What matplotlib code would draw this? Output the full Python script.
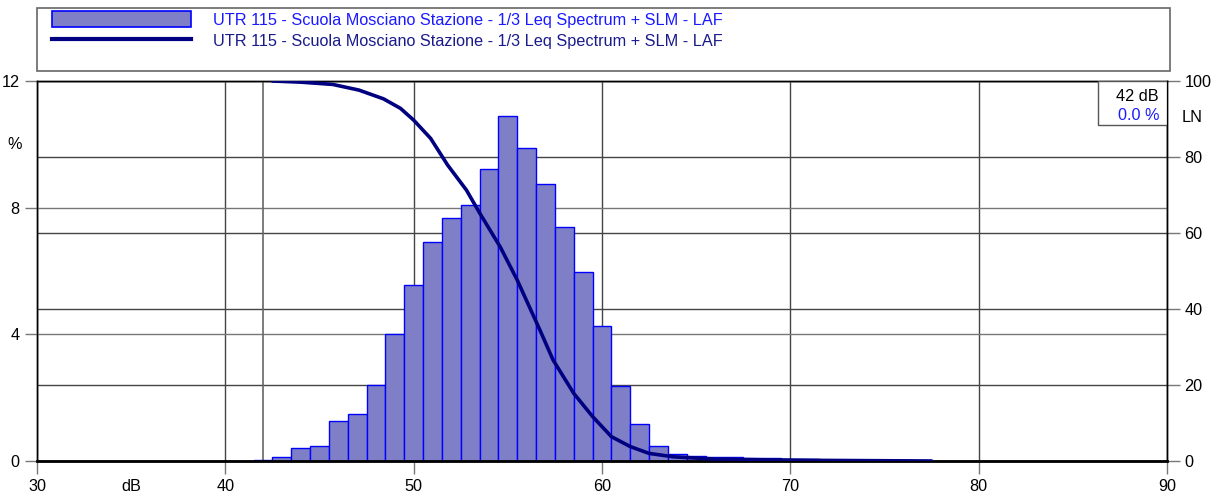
import matplotlib; matplotlib.use("Agg")
import matplotlib.pyplot as plt
from matplotlib.patches import Rectangle, Patch
from matplotlib.lines import Line2D
from matplotlib.transforms import blended_transform_factory

plt.rcParams["font.family"] = ["Liberation Sans", "DejaVu Sans"]

# level distribution (1 dB classes, % of time)
levels = [42, 43, 44, 45, 46, 47, 48, 49, 50, 51, 52, 53, 54, 55, 56, 57, 58, 59,
          60, 61, 62, 63, 64, 65, 66, 67, 68, 69, 70, 71, 72, 73, 74, 75, 76, 77]
percent = [0.03, 0.14, 0.40, 0.48, 1.27, 1.50, 2.40, 4.02, 5.56, 6.91, 7.68, 8.09,
           9.23, 10.90, 9.87, 8.74, 7.40, 5.96, 4.26, 2.37, 1.16, 0.48, 0.22, 0.17,
           0.12, 0.13, 0.10, 0.08, 0.06, 0.05, 0.04, 0.04, 0.03, 0.02, 0.02, 0.01]
# cumulative LN curve (% of time above level)
ln_db = [42.5, 44, 45.7, 47.1, 48.4, 49.3, 50.0, 50.9, 51.8, 52.8, 53.5, 54.6, 55.5,
         56.7, 57.4, 58.5, 59.5, 60.5, 61.5, 62.5, 63.8, 66, 68.8, 72, 77.5]
ln_pct = [100, 99.7, 99.1, 97.6, 95.3, 92.8, 89.7, 84.9, 77.9, 71.3, 65.3, 56.3, 47.6,
          34.5, 26.6, 17.8, 11.7, 6.4, 3.8, 2.0, 1.1, 0.5, 0.3, 0.15, 0]
cursor_db = 42
cursor_txt = ["42 dB", "0.0 %"]
series_name = "UTR 115 - Scuola Mosciano Stazione - 1/3 Leq Spectrum + SLM - LAF"

BAR_FACE, BAR_EDGE, LINE_C = "#7f7fc8", "#0000ff", "#000080"
GRID = "#444444"
FS = 11.7

fig = plt.figure(figsize=(12.16, 4.95), dpi=100)
ax = fig.add_axes([37/1216, 1 - 461/495, 1130/1216, 380/495])
ax2 = ax.twinx()
ax.set_zorder(2); ax.patch.set_visible(False)

ax.set_xlim(30, 90); ax.set_ylim(0, 12)
ax2.set_ylim(0, 100)
ax.set_xticks(range(30, 91, 10)); ax.set_yticks([0, 4, 8, 12])
ax2.set_yticks(range(0, 101, 20))

# grids: right-axis lines on ax2 (behind), left-axis + vertical lines on ax
ax2.grid(axis="y", color=GRID, lw=1)
ax.grid(axis="y", color="#777777", lw=1)
ax.grid(axis="x", color=GRID, lw=1)
ax.set_axisbelow(True)

ax.bar(levels, percent, width=1.0, color=BAR_FACE, edgecolor=BAR_EDGE, lw=1, zorder=2)
ax.axvline(cursor_db, color="#666666", lw=1.2, zorder=1.5)
ax.plot(ln_db, ln_pct, color=LINE_C, lw=2.6, transform=ax2.transData, zorder=3,
        solid_capstyle="round", solid_joinstyle="round")

for a in (ax, ax2):
    for s in a.spines.values():
        s.set_color("black"); s.set_linewidth(1)
ax.spines["bottom"].set_linewidth(2)
ax.tick_params(axis="both", direction="out", length=9, width=1, color="#777777",
               labelsize=FS, labelcolor="black")
ax.tick_params(axis="x", pad=4)
ax2.tick_params(axis="y", direction="out", length=9, width=1, color="#777777",
                labelsize=FS, labelcolor="black")

# axis captions
ax.text(-0.02, 10, "%", transform=blended_transform_factory(ax.transAxes, ax.transData),
        ha="center", va="center", fontsize=FS)
ax.text(35, -0.067, "dB", transform=blended_transform_factory(ax.transData, ax.transAxes),
        ha="center", va="center", fontsize=FS)
ax2.text(1.022, 90.5, "LN", transform=blended_transform_factory(ax2.transAxes, ax2.transData),
         ha="center", va="center", fontsize=FS)

# cursor readout box
ax.add_patch(Rectangle((0.939, 0.884), 0.061, 0.116, transform=ax.transAxes,
                       facecolor="white", edgecolor="#555555", lw=1, zorder=4))
ax.text(0.993, 0.96, cursor_txt[0], transform=ax.transAxes, ha="right", va="center",
        fontsize=FS, color="black", zorder=5)
ax.text(0.993, 0.91, cursor_txt[1], transform=ax.transAxes, ha="right", va="center",
        fontsize=FS, color="#1a1aff", zorder=5)

# legend box
fig.patches.append(Rectangle((37/1216, 1 - 71/495), 1133/1216, 63/495,
                             transform=fig.transFigure, facecolor="white",
                             edgecolor="#666666", lw=1.2))
handles = [Patch(facecolor=BAR_FACE, edgecolor=BAR_EDGE, lw=1.2),
           Line2D([], [], color=LINE_C, lw=3)]
leg = fig.legend(handles, [series_name, series_name], loc="upper left",
                 bbox_to_anchor=(45/1216, 1 - 5/495), frameon=False, fontsize=FS,
                 handlelength=8.6, handleheight=1.1, handletextpad=1.35,
                 labelspacing=0.3, borderaxespad=0)
leg.get_texts()[0].set_color("#1a1aff")
leg.get_texts()[1].set_color("#1a1a8c")

fig.savefig("out.png", dpi=100)
